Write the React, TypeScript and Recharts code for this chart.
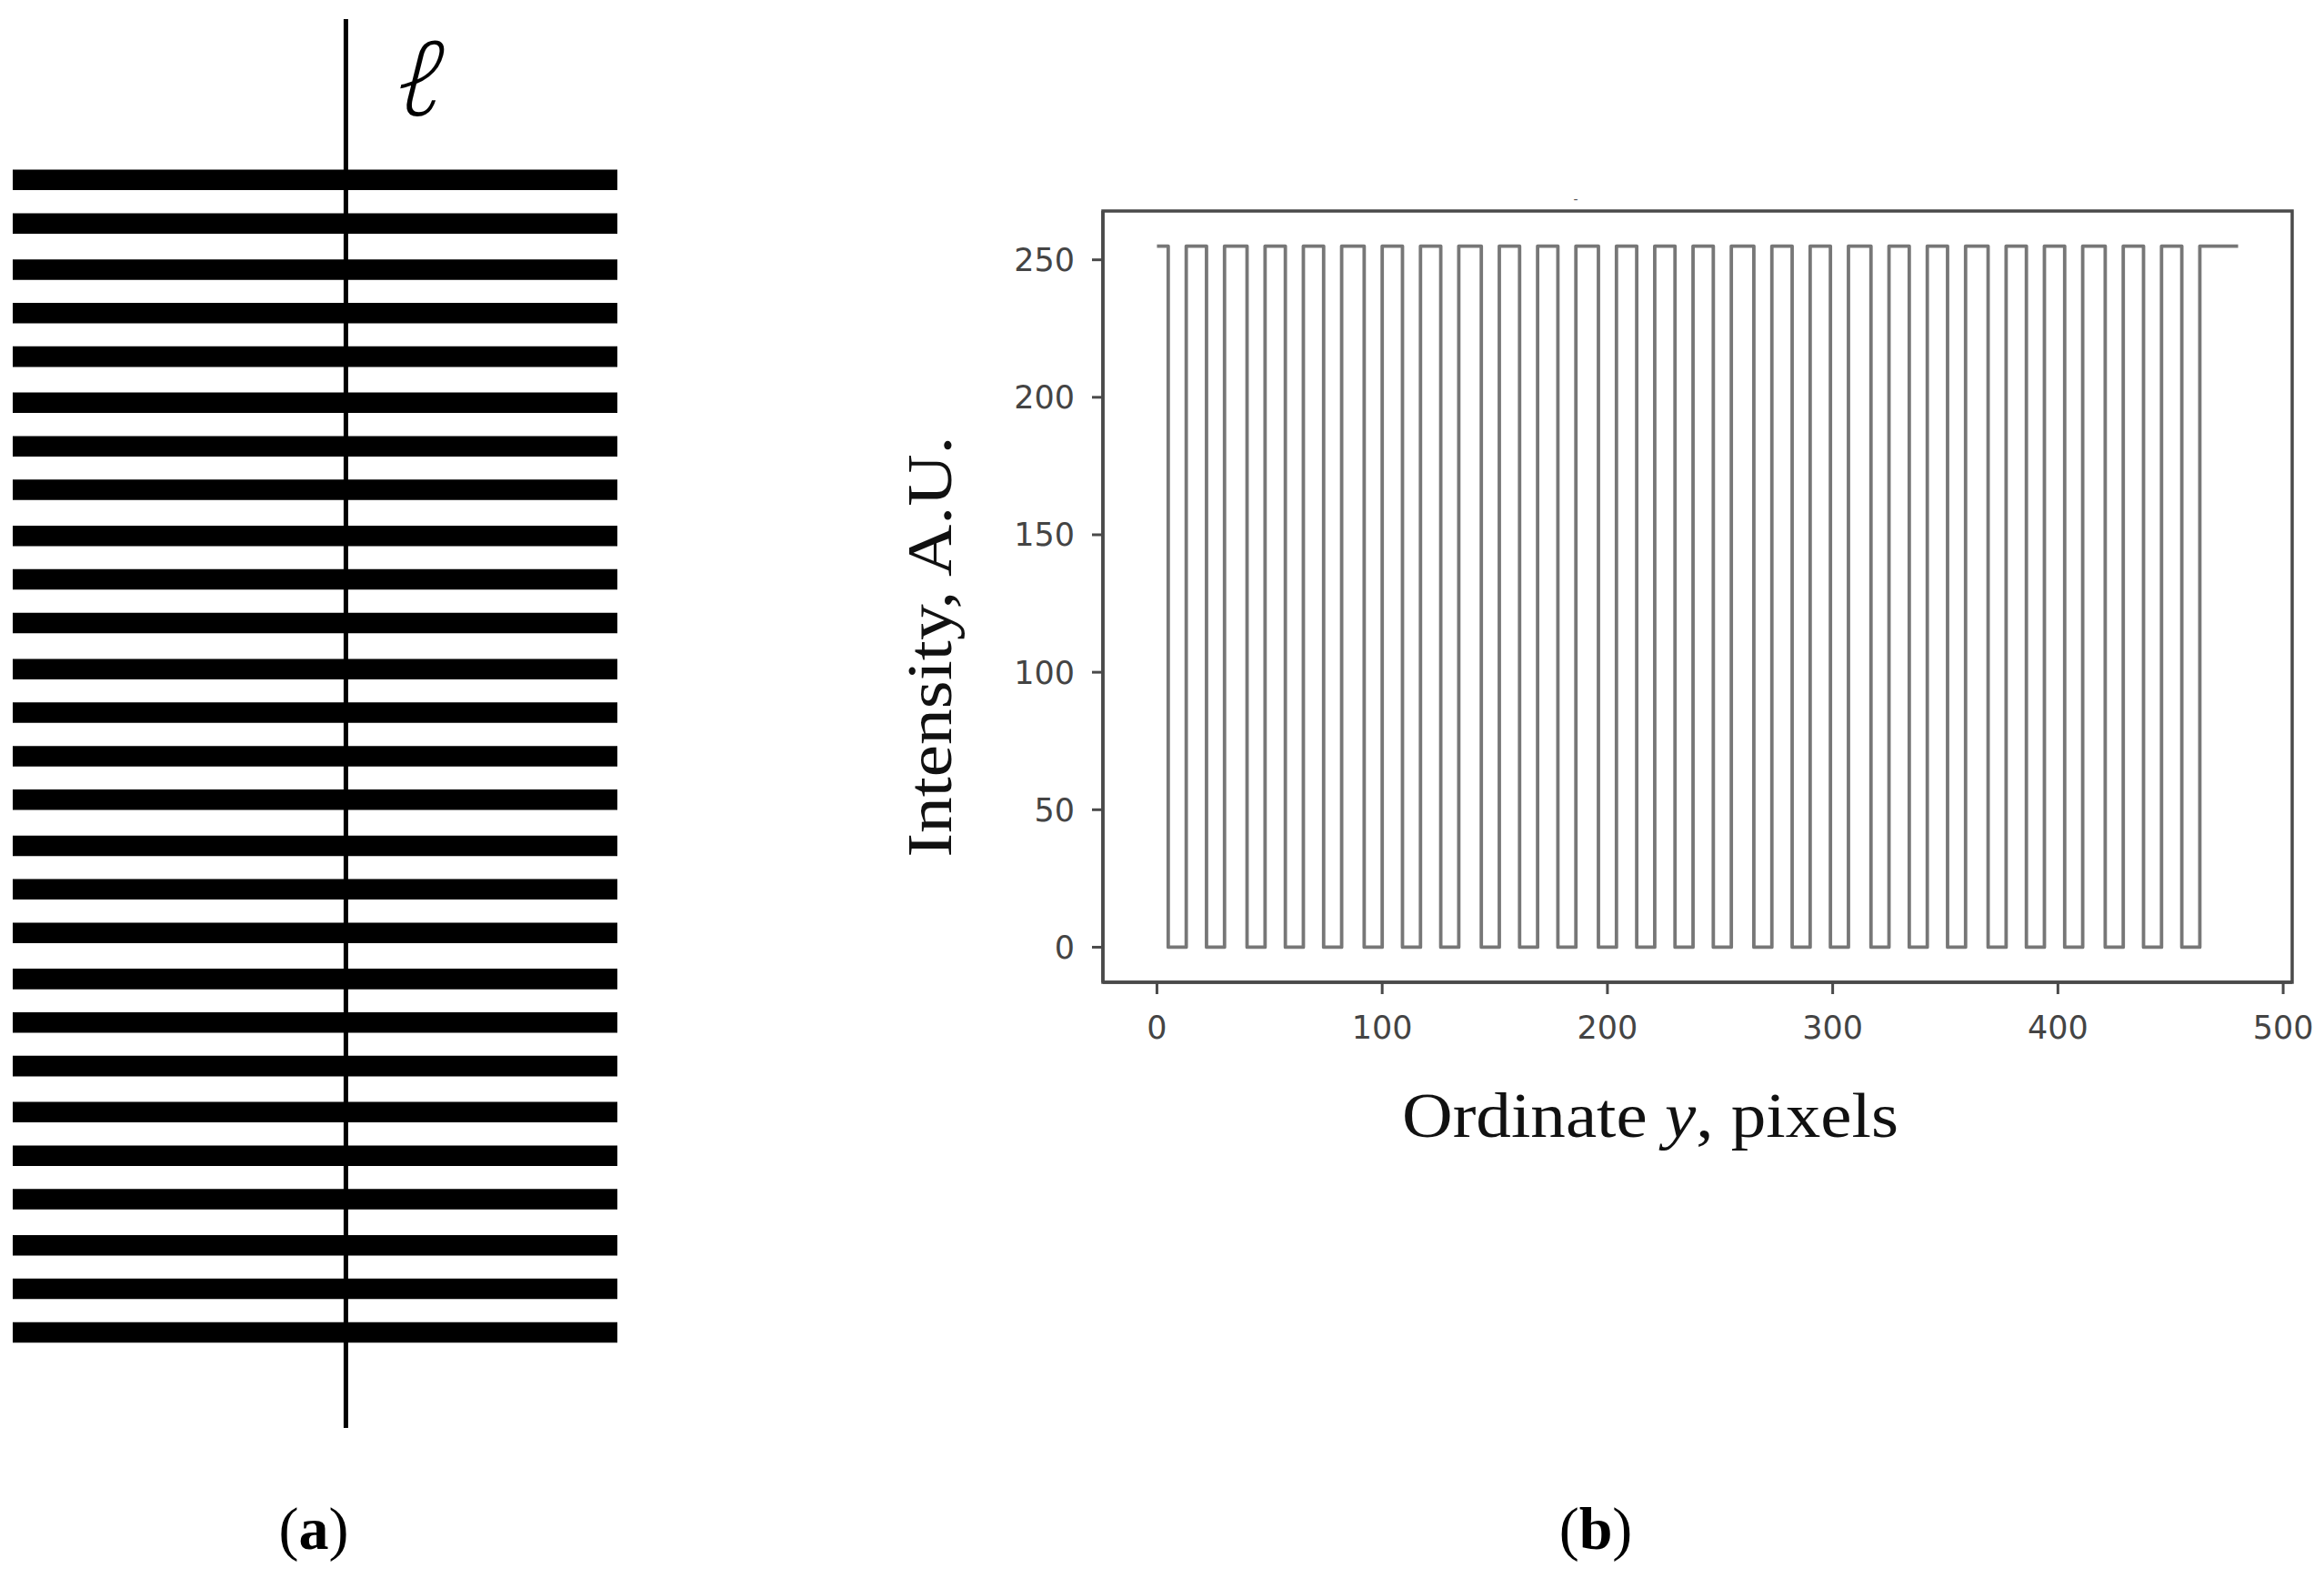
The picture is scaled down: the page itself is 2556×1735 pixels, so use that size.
import React from 'react';
import { ComposedChart, Line, XAxis, YAxis, ReferenceArea, ReferenceLine, Label } from 'recharts';

// ---- data ----
const xTicks = [0, 100, 200, 300, 400, 500];
const yTicks = [0, 50, 100, 150, 200, 250];

// pixel row where the intensity falls to 0 (top edge of each black stripe)
const stripeStart = [5, 22, 40, 57, 74, 92, 109, 126, 144, 161, 178, 196, 213, 230, 247, 265, 282, 299, 317, 334, 351, 369, 386, 403, 421, 438, 455];
// pixel row where the intensity returns to 255 (bottom edge of each black stripe)
const stripeEnd = [13, 30, 48, 65, 82, 100, 117, 134, 152, 169, 186, 204, 221, 238, 255, 273, 290, 307, 325, 342, 359, 377, 394, 411, 429, 446, 463];
const firstRow = 0;
const lastRow = 480;
const HIGH = 255;
const LOW = 0;

// axis limits (matplotlib-style 5% margins around the data)
const xDomain: [number, number] = [-24, 504];
const yDomain: [number, number] = [-12.75, 267.75];

// ---- tables built from the arrays ----
const profile: { row: number; intensity: number }[] = [{ row: firstRow, intensity: HIGH }];
stripeStart.forEach((s, i) => {
  const e = stripeEnd[i];
  profile.push(
    { row: s, intensity: HIGH },
    { row: s, intensity: LOW },
    { row: e, intensity: LOW },
    { row: e, intensity: HIGH }
  );
});
profile.push({ row: lastRow, intensity: HIGH });

const stripes = stripeStart.map((s, i) => ({ start: s, end: stripeEnd[i] }));

const SERIF = '"Liberation Serif", "Times New Roman", serif';
const SANS = '"DejaVu Sans", sans-serif';
const AXIS_COLOR = '#4a4a4a';
const LINE_COLOR = '#777777';

const YTitle = (props: any) => {
  const vb = props.viewBox || { x: 0, y: 0, width: 0, height: 0 };
  const cx = vb.x + 33;
  const cy = vb.y + vb.height / 2 + 55;
  return (
    <text
      x={cx}
      y={cy}
      transform={`rotate(-90 ${cx} ${cy})`}
      textAnchor="middle"
      fontFamily={SERIF}
      fontSize={70}
      fill="#111"
      textLength={463}
      lengthAdjust="spacingAndGlyphs"
    >
      Intensity, A.U.
    </text>
  );
};

const XTitle = (props: any) => {
  const vb = props.viewBox || { x: 0, y: 0, width: 0, height: 0 };
  const cx = vb.x + vb.width / 2 - 52;
  const by = vb.y + 170;
  return (
    <text
      x={cx}
      y={by}
      textAnchor="middle"
      fontFamily={SERIF}
      fontSize={70}
      fill="#111"
      textLength={546}
      lengthAdjust="spacingAndGlyphs"
    >
      Ordinate <tspan fontStyle="italic">y</tspan>, pixels
    </text>
  );
};

const EllLabel = (props: any) => {
  const vb = props.viewBox || { x: 0, y: 0 };
  const tx = vb.x + 46;
  const ty = vb.y + 106;
  return (
    <text
      x={0}
      y={0}
      transform={`translate(${tx} ${ty}) skewX(-14)`}
      fontFamily='"Open Sans", "Noto Sans", "DejaVu Sans", sans-serif'
      fontWeight={300}
      fontSize={114}
      fill="#000"
    >
      ℓ
    </text>
  );
};

const PanelA = () => (
  <div style={{ position: 'absolute', left: 0, top: 0 }}>
    <ComposedChart
      width={720}
      height={1600}
      data={stripes}
      margin={{ top: 21, right: 41, bottom: 30, left: 14 }}
    >
      <XAxis type="number" dataKey="start" domain={[0, 1]} allowDataOverflow hide />
      <YAxis type="number" domain={[-53.8, 496.3]} allowDataOverflow reversed hide />
      {stripes.map((s, i) => (
        <ReferenceArea
          key={i}
          x1={0}
          x2={1}
          y1={s.start}
          y2={s.end}
          fill="#000"
          fillOpacity={1}
          stroke="none"
          ifOverflow="visible"
        />
      ))}
      <ReferenceLine x={0.551} stroke="#000" strokeWidth={5} ifOverflow="visible">
        <Label content={(p: any) => <EllLabel {...p} />} />
      </ReferenceLine>
    </ComposedChart>
  </div>
);

const PanelB = () => (
  <div style={{ position: 'absolute', left: 900, top: 0 }}>
    <ComposedChart
      width={1656}
      height={1735}
      data={profile}
      margin={{ top: 232, right: 35, bottom: 555, left: 113 }}
    >
      <XAxis
        type="number"
        dataKey="row"
        domain={xDomain}
        allowDataOverflow
        ticks={xTicks}
        height={100}
        tickSize={13}
        tickMargin={24}
        axisLine={{ stroke: AXIS_COLOR, strokeWidth: 3.5 }}
        tickLine={{ stroke: AXIS_COLOR, strokeWidth: 3 }}
        tick={{ fill: '#444', fontSize: 35, fontFamily: SANS }}
      >
        <Label content={(p: any) => <XTitle {...p} />} />
      </XAxis>
      <YAxis
        type="number"
        domain={yDomain}
        allowDataOverflow
        ticks={yTicks}
        width={200}
        tickSize={12}
        tickMargin={19}
        axisLine={{ stroke: AXIS_COLOR, strokeWidth: 3.5 }}
        tickLine={{ stroke: AXIS_COLOR, strokeWidth: 3 }}
        tick={{ fill: '#444', fontSize: 35, fontFamily: SANS }}
      >
        <Label content={(p: any) => <YTitle {...p} />} />
      </YAxis>
      {/* frame around the plotting area */}
      <ReferenceArea
        x1={xDomain[0]}
        x2={xDomain[1]}
        y1={yDomain[0]}
        y2={yDomain[1]}
        fill="none"
        fillOpacity={0}
        stroke={AXIS_COLOR}
        strokeWidth={3.5}
        ifOverflow="visible"
      />
      <Line
        type="linear"
        dataKey="intensity"
        stroke={LINE_COLOR}
        strokeWidth={3.8}
        strokeLinejoin="round"
        dot={false}
        activeDot={false}
        isAnimationActive={false}
      />
    </ComposedChart>
  </div>
);

export default function App() {
  return (
    <div
      style={{
        position: 'absolute',
        left: 0,
        top: 0,
        width: 2556,
        height: 1735,
        background: '#fff',
        overflow: 'hidden',
      }}
    >
      <PanelA />
      <PanelB />
      <svg
        width={2556}
        height={1735}
        style={{ position: 'absolute', left: 0, top: 0, pointerEvents: 'none' }}
      >
        <text x={1733} y={224} textAnchor="middle" fontFamily={SANS} fontSize={14} fill="#555">-</text>
        <text x={345} y={1703} textAnchor="middle" fontFamily={SERIF} fontSize={66} fill="#000">
          (<tspan fontWeight="bold">a</tspan>)
        </text>
        <text x={1755} y={1703} textAnchor="middle" fontFamily={SERIF} fontSize={66} fill="#000">
          (<tspan fontWeight="bold">b</tspan>)
        </text>
      </svg>
    </div>
  );
}
